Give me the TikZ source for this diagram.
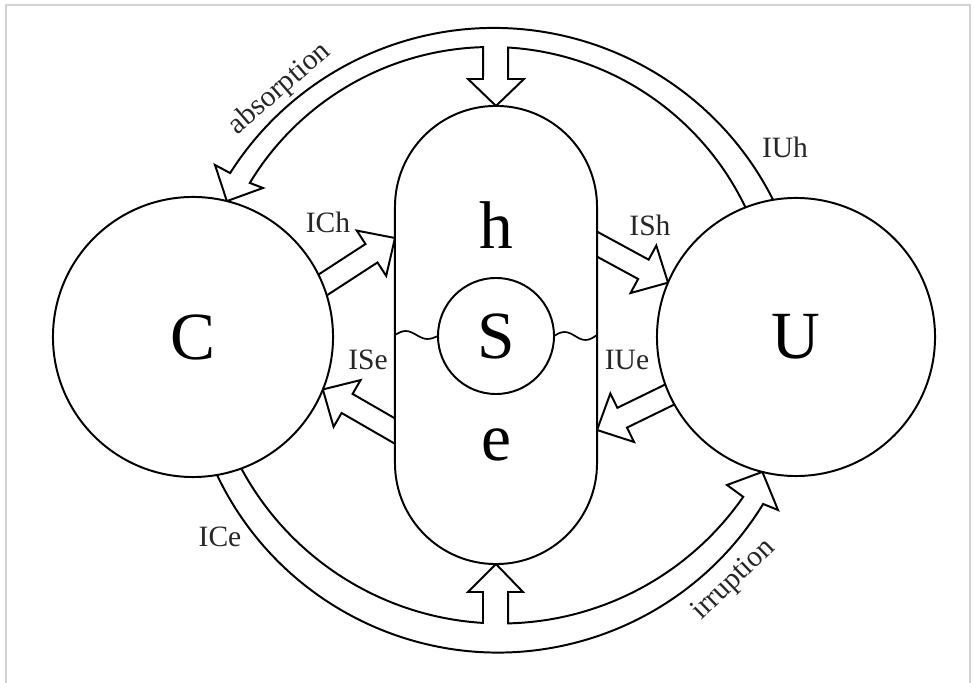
\documentclass[tikz,border=0pt]{standalone}
\usepackage{fontspec}
\setmainfont{Liberation Serif}
\usetikzlibrary{calc,backgrounds}

\tikzset{
  blob/.style={circle, draw, line width=1.4pt, fill=white, inner sep=0pt, outer sep=0pt, font=\fontsize{48}{50}\selectfont},
  fat/.style={draw, line width=1.4pt, fill=white, line join=miter},
  lbl/.style={font=\fontsize{21}{24}\selectfont, inner sep=0pt, text=black!85},
}

% block arrow: tip, direction
\newcommand{\sidearrow}[2]{%
  \draw[fat, shift={#1}, rotate=#2] (0,0) -- (-28,27) -- (-28,11) -- (-120,11) -- (-120,-11) -- (-28,-11) -- (-28,-27) -- cycle;}

\begin{document}
\begin{tikzpicture}[x=0.025cm, y=0.025cm]
\useasboundingbox (0,0) rectangle (974,683);

% Frame
\draw[gray!35, line width=1.5pt] (6,-10) -- (6,678) -- (970,678) -- (970,-10);

% System
\node[draw, line width=1.4pt, fill=white, minimum width=5.05cm, minimum height=11.45cm,
      rounded corners=2.52cm, inner sep=0pt, outer sep=0pt] (box) at (496,348) {};
\node[blob, minimum size=2.9cm] (S) at (496,347) {S};
\node[font=\fontsize{48}{50}\selectfont] (h) at (496,458) {h};
\node[font=\fontsize{48}{50}\selectfont] (e) at (496,238) {e};

% Circles
\node[blob, minimum size=7cm] (C) at (193,346) {C};
\node[blob, minimum size=6.95cm] (U) at (796,346) {U};

% Wavy boundary
\draw[line width=1.2pt] (box.west) sin ++(10.75,4) cos ++(10.75,-4) sin ++(10.75,-4) cos (S.west);
\draw[line width=1.2pt] (S.east) sin ++(10.5,4) cos ++(10.5,-4) sin ++(10.5,-4) cos (box.east);

\begin{pgfonlayer}{background}
% absorption
\draw[fat] ($(494,342.5)+(22:312.5)$) arc[start angle=22, end angle=147.6, radius=312.5]
  -- (215,518) -- (C.76) -- (263,495)
  -- ($(491,354)+(148.8:282)$) arc[start angle=148.8, end angle=91.6, radius=282]
  -- (483,604) -- (468,604) -- (box.north) -- (524,604) -- (508,604)
  -- ($(491,354)+(86.5:282)$) arc[start angle=86.5, end angle=18, radius=282] -- cycle;

% irruption
\draw[fat] ($(498,341.5)+(198:311)$) arc[start angle=198, end angle=328.5, radius=311]
  -- (778,173) -- (U.256) -- (727,198)
  -- ($(501,354.5)+(325.2:295)$) arc[start angle=325.2, end angle=271.4, radius=295]
  -- (508,91) -- (523,91) -- (box.south) -- (468,91) -- (483,91)
  -- ($(501,354.5)+(266.5:295)$) arc[start angle=266.5, end angle=205, radius=295] -- cycle;

% Side arrows
\sidearrow{($(box.west)+(0,97)$)}{33}
\sidearrow{(U.157)}{-28.5}
\sidearrow{(C.-22)}{150}
\sidearrow{($(box.east)+(0,-95)$)}{206}
\end{pgfonlayer}

% Labels
\node[lbl] (ICh) at (328,461) {ICh};
\node[lbl] (ISh) at (650,458) {ISh};
\node[lbl] (ISe) at (368,323) {ISe};
\node[lbl] (IUe) at (627,323) {IUe};
\node[lbl] (IUh) at (785,536) {IUh};
\node[lbl] (ICe) at (220,146) {ICe};
\node[lbl, rotate=41] (abs) at (280,594) {absorption};
\node[lbl, rotate=44] (irr) at (734,103) {irruption};

\end{tikzpicture}
\end{document}
